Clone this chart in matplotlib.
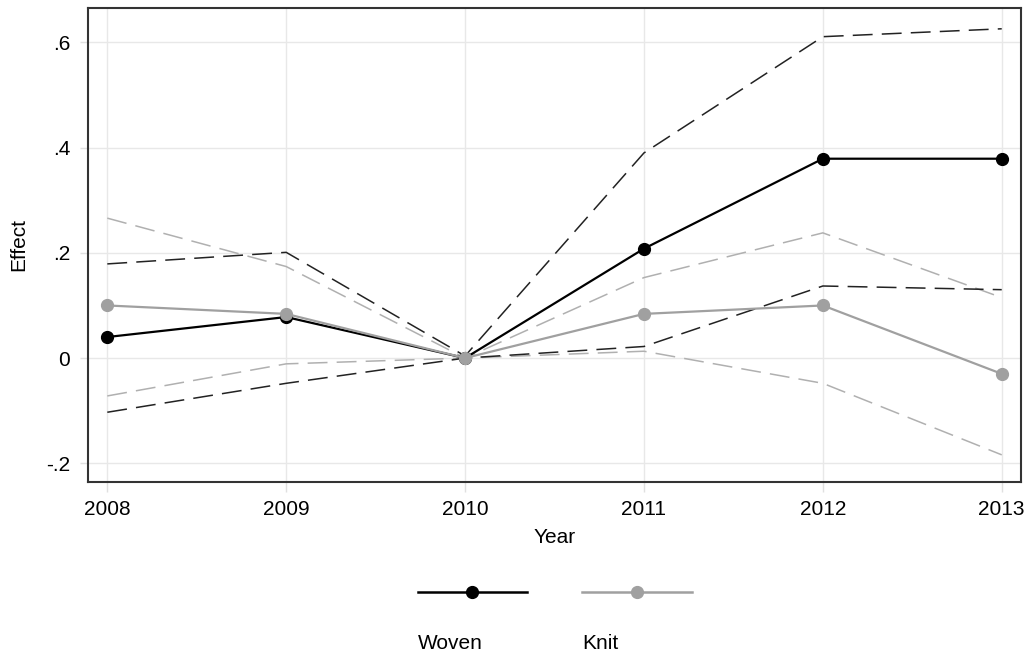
import numpy as np
import matplotlib
matplotlib.use("Agg")
import matplotlib.pyplot as plt
from matplotlib.lines import Line2D
from matplotlib.offsetbox import VPacker

plt.rcParams["font.family"] = ["Liberation Sans", "DejaVu Sans"]

years = [2008, 2009, 2010, 2011, 2012, 2013]

woven = [0.040, 0.078, 0.0, 0.208, 0.379, 0.379]
woven_hi = [0.179, 0.201, 0.004, 0.390, 0.611, 0.626]
woven_lo = [-0.103, -0.048, 0.0, 0.022, 0.137, 0.130]

knit = [0.100, 0.084, 0.0, 0.084, 0.100, -0.030]
knit_hi = [0.266, 0.174, 0.0, 0.153, 0.238, 0.115]
knit_lo = [-0.072, -0.011, 0.0, 0.013, -0.048, -0.184]

ytick_vals = [-0.2, 0, 0.2, 0.4, 0.6]
ytick_labels = ["-.2", "0", ".2", ".4", ".6"]

BLACK = "#000000"
GRAY = "#a0a0a0"
DASH_BLACK = "#222222"
DASH_GRAY = "#b0b0b0"
FS = 15

fig = plt.figure(figsize=(10.31, 6.62), dpi=100)
ax = fig.add_axes([0.0857, 0.2724, 0.9043, 0.7151])

# confidence bands (dashed)
ax.plot(years, woven_hi, color=DASH_BLACK, lw=1.1, ls=(0, (13, 6)), zorder=3)
ax.plot(years, woven_lo, color=DASH_BLACK, lw=1.1, ls=(0, (13, 6)), zorder=3)
ax.plot(years, knit_hi, color=DASH_GRAY, lw=1.1, ls=(0, (13, 6)), zorder=2)
ax.plot(years, knit_lo, color=DASH_GRAY, lw=1.1, ls=(0, (13, 6)), zorder=2)

# point estimates, knit drawn over woven
ax.plot(years, woven, color=BLACK, lw=1.6, marker="o", ms=8.5, zorder=4, label="Woven")
ax.plot(years, knit, color=GRAY, lw=1.6, marker="o", ms=8.5, zorder=5, label="Knit")

ax.set_xlim(2007.894, 2013.106)
ax.set_ylim(-0.235, 0.665)
ax.set_xticks(years)
ax.set_xticklabels([str(y) for y in years], fontsize=FS)
ax.set_yticks(ytick_vals)
ax.set_yticklabels(ytick_labels, fontsize=FS)

ax.grid(True, color="#e8e8e8", lw=1)
ax.set_axisbelow(True)
ax.tick_params(axis="x", length=7, width=1, color="#e0e0e0", pad=6)
ax.tick_params(axis="y", length=6, width=1, color="#e0e0e0", pad=7)
for s in ax.spines.values():
    s.set_color("#333333")
    s.set_linewidth(1.5)

ax.set_xlabel("Year", fontsize=FS)
ax.set_ylabel("Effect", fontsize=FS)
ax.xaxis.set_label_coords(0.5, -0.098)
ax.yaxis.set_label_coords(-0.0647, 0.5)

# Stata-style legend: key on top, label underneath
handles = [
    Line2D([], [], color=BLACK, lw=1.8, marker="o", ms=8.5),
    Line2D([], [], color=GRAY, lw=1.8, marker="o", ms=8.5),
]
leg = fig.legend(handles, ["Woven", "Knit"], ncol=2, loc="upper center",
                 bbox_to_anchor=(0.538, 0.132), frameon=False, fontsize=FS,
                 handlelength=5.25, columnspacing=2.65, borderpad=0,
                 handletextpad=0, numpoints=1)
for col in leg._legend_handle_box.get_children():
    new = []
    for item in col.get_children():
        da, ta = item.get_children()
        new.append(VPacker(children=[da, ta], align="left", pad=0, sep=25))
    col._children = new

fig.savefig("out.png", dpi=100)
